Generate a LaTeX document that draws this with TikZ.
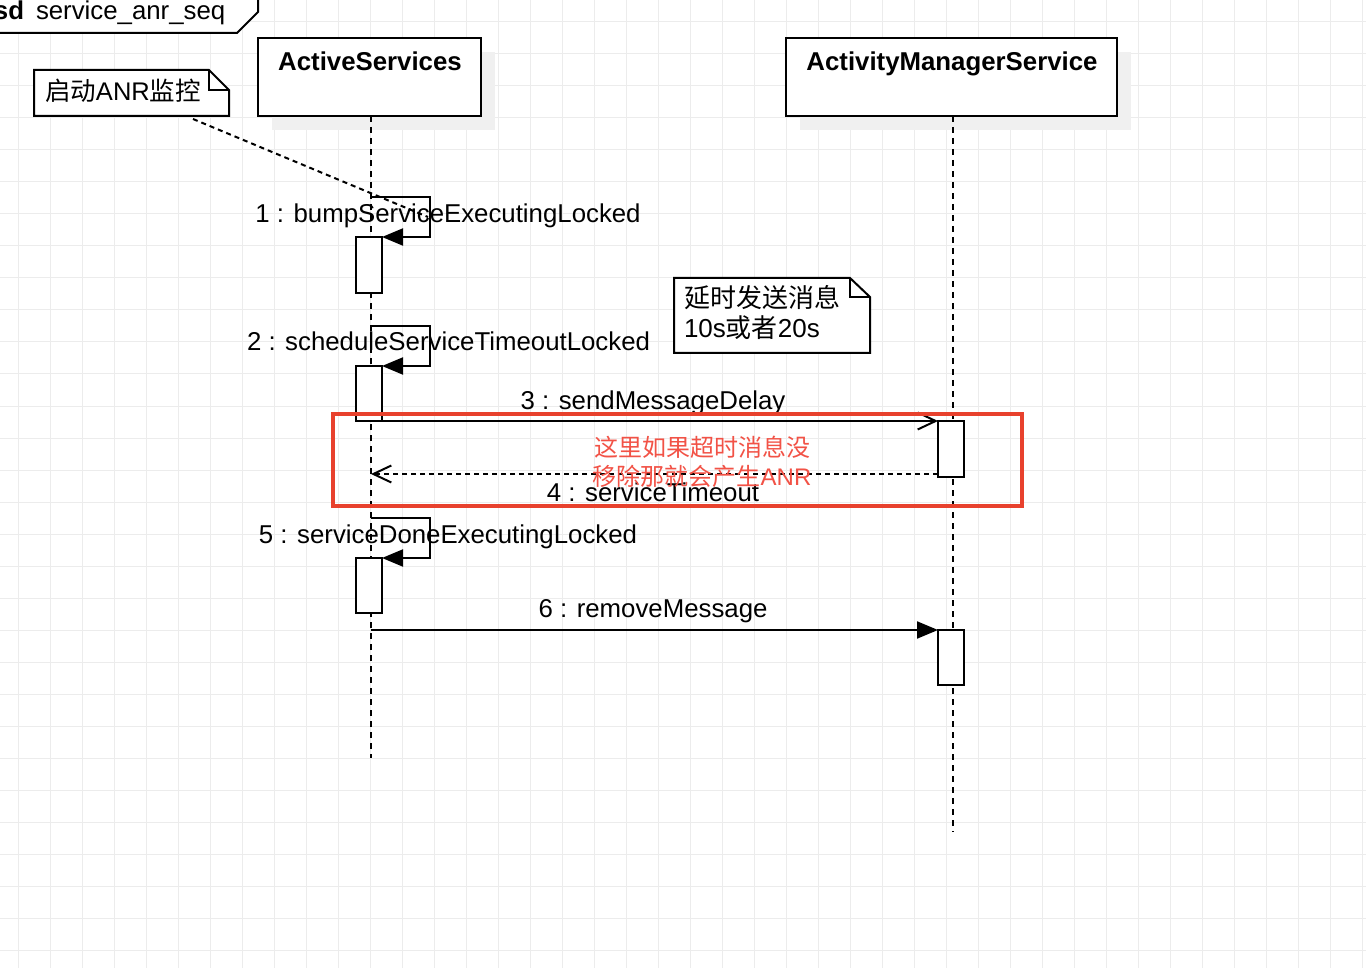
\documentclass[tikz,border=0pt]{standalone}
\usepackage{fontspec}
\setmainfont{Liberation Sans}
\newfontfamily\cjk{Noto Sans CJK SC}
\usetikzlibrary{arrows.meta}
\definecolor{gridc}{RGB}{236,236,236}
\definecolor{shadowc}{RGB}{240,240,240}
\definecolor{anrred}{RGB}{232,65,45}
\definecolor{anrtext}{RGB}{242,82,70}
\begin{document}
\begin{tikzpicture}[x=1pt,y=-1pt,
  every node/.style={inner sep=0pt, outer sep=0pt},
  txt/.style={font=\fontsize{25.8}{30}\selectfont, anchor=base},
  headbox/.style={draw, line width=2pt, fill=white, minimum height=78pt},
  actbox/.style={draw, line width=2pt, fill=white, minimum width=26pt},
  lifeline/.style={line width=2pt, dash pattern=on 6pt off 5pt},
  msg/.style={line width=2pt},
  ret/.style={line width=2pt, dash pattern=on 5pt off 4pt},
  filledtip/.style={-{Triangle[length=21pt,width=17pt]}},
  opentip/.style={-{Straight Barb[length=18pt,width=17pt]}},
  notebox/.style={line width=2pt, fill=white, line join=miter},
  shadowbox/.style={fill=shadowc, draw=none}]
\useasboundingbox (0,0) rectangle (1366,968);
\fill[white] (0,0) rectangle (1366,968);
% grid
\foreach \x in {18,50,...,1362} \draw[gridc, line width=1pt] (\x,0) -- (\x,968);
\foreach \y in {22,54,...,966} \draw[gridc, line width=1pt] (0,\y) -- (1366,\y);

% frame label
\draw[line width=2pt, fill=white] (-2,-2) -- (-2,33) -- (237,33) -- (258,12) -- (258,-2);
\node[txt, anchor=base west, font=\bfseries\fontsize{25.8}{30}\selectfont] (sdk) at (-6,20) {sd};
\node[txt, anchor=base west] (sdname) at (36,20) {service\_anr\_seq};

% shadows
\fill[shadowbox] (272,52) rectangle (495,130);
\fill[shadowbox] (800,52) rectangle (1131,130);

% lifeline heads
\node[headbox, minimum width=223pt] (as) at (369.5,77) {};
\node[headbox, minimum width=331pt] (ams) at (951.5,77) {};
\node[txt, font=\bfseries\fontsize{25.8}{30}\selectfont] (astitle) at (370,71) {ActiveServices};
\node[txt, font=\bfseries\fontsize{25.8}{30}\selectfont] (amstitle) at (952,71) {ActivityManagerService};

% lifelines
\coordinate (asend) at (371,758);
\coordinate (amsend) at (953,832);
\draw[lifeline] (as.south -| asend) -- (asend);
\draw[lifeline] (ams.south -| amsend) -- (amsend);

% activation boxes
\node[actbox, minimum height=56pt] (a1) at (369,265) {};
\node[actbox, minimum height=55pt] (a2) at (369,393.5) {};
\node[actbox, minimum height=56pt] (b1) at (951,449) {};
\node[actbox, minimum height=55pt] (a3) at (369,585.5) {};
\node[actbox, minimum height=55pt] (b2) at (951,657.5) {};

% note 1
\draw[notebox] (34,70) -- (209,70) -- (229,90) -- (229,116) -- (34,116) -- cycle;
\draw[line width=2pt] (209,70) -- (209,90) -- (229,90);
\node[txt, anchor=base west, font=\fontsize{25.5}{30}\selectfont] (note1) at (45,101) {{\cjk 启动}ANR{\cjk 监控}};
\coordinate (note1end) at (428,217);
\coordinate (note1start) at (193,119);
\draw[ret] (note1start) -- (note1end);

% note 2
\draw[notebox] (674,278) -- (850,278) -- (870,297) -- (870,353) -- (674,353) -- cycle;
\draw[line width=2pt] (850,278) -- (850,297) -- (870,297);
\node[txt, anchor=base west, font=\fontsize{26}{30}\selectfont] (note2a) at (684,308) {\cjk 延时发送消息};
\node[txt, anchor=base west, font=\fontsize{26}{30}\selectfont] (note2b) at (684,338) {10s{\cjk 或者}20s};

% message 1 (self)
\coordinate (m1a) at (371,197);
\coordinate (m1b) at (430,197);
\coordinate (m1c) at (430,237);
\draw[msg, filledtip] (m1a) -- (m1b) -- (m1c) -- (a1.north east);
\node[txt] (l1) at (448,223) {1 : bumpServiceExecutingLocked};

% message 2 (self)
\coordinate (m2a) at (371,326);
\coordinate (m2b) at (430,326);
\coordinate (m2c) at (430,366);
\draw[msg, filledtip] (m2a) -- (m2b) -- (m2c) -- (a2.north east);
\node[txt] (l2) at (448.5,351) {2 : scheduleServiceTimeoutLocked};

% message 3
\draw[msg, opentip] (a2.south east) -- (b1.north west);
\node[txt] (l3) at (653,409) {3 : sendMessageDelay};

% message 4 (return)
\coordinate (m4s) at (938,474);
\coordinate (m4e) at (371,474);
\draw[ret, opentip] (m4s) -- (m4e);
\node[txt] (l4) at (653,501) {4 : serviceTimeout};

% message 5 (self)
\coordinate (m5a) at (371,518);
\coordinate (m5b) at (430,518);
\coordinate (m5c) at (430,558);
\draw[msg, filledtip] (m5a) -- (m5b) -- (m5c) -- (a3.north east);
\node[txt] (l5) at (448,543) {5 : serviceDoneExecutingLocked};

% message 6
\coordinate (m6s) at (371,630);
\draw[msg, filledtip] (m6s) -- (b2.north west);
\node[txt] (l6) at (653,617) {6 : removeMessage};

% highlight
\draw[anrred, line width=4pt] (333,414) rectangle (1022,506);
\node[txt, text=anrtext, font=\fontsize{24}{28}\selectfont] (red1) at (702,456) {\cjk 这里如果超时消息没};
\node[txt, text=anrtext, font=\fontsize{24}{28}\selectfont] (red2) at (702,485) {{\cjk 移除那就会产生}ANR};
\end{tikzpicture}
\end{document}
